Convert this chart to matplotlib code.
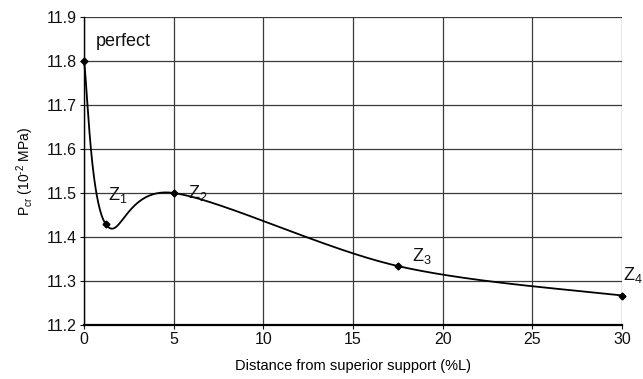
import numpy as np
import matplotlib
matplotlib.use("Agg")
import matplotlib.pyplot as plt

plt.rcParams['font.family'] = ['Liberation Sans', 'DejaVu Sans']
plt.rcParams['mathtext.fontset'] = 'custom'
plt.rcParams['mathtext.rm'] = 'Liberation Sans'
plt.rcParams['mathtext.it'] = 'Liberation Sans'
plt.rcParams['mathtext.default'] = 'rm'

# Critical load vs. imperfection position
positions = [0.0, 1.2, 5.0, 17.5, 30.0]
p_cr = [11.80, 11.43, 11.50, 11.334, 11.267]
point_labels = ["perfect", "Z$_1$", "Z$_2$", "Z$_3$", "Z$_4$"]
x_ticks = [0, 5, 10, 15, 20, 25, 30]
y_ticks = [11.2, 11.3, 11.4, 11.5, 11.6, 11.7, 11.8, 11.9]


def smooth_curve(xs, ys, n=60):
    """Cubic Bezier smoothing (Catmull-Rom style, tension 1/6)."""
    pts = np.column_stack([xs, ys])
    out = []
    for i in range(len(pts) - 1):
        p0 = pts[i - 1] if i > 0 else pts[i]
        p1 = pts[i]
        p2 = pts[i + 1]
        p3 = pts[i + 2] if i + 2 < len(pts) else pts[i + 1]
        c1 = p1 + (p2 - p0) / 6.0
        c2 = p2 - (p3 - p1) / 6.0
        t = np.linspace(0, 1, n)[:, None]
        seg = ((1 - t) ** 3) * p1 + 3 * ((1 - t) ** 2) * t * c1 \
            + 3 * (1 - t) * t ** 2 * c2 + t ** 3 * p2
        out.append(seg if i == 0 else seg[1:])
    curve = np.vstack(out)
    return curve[:, 0], curve[:, 1]


fig = plt.figure(figsize=(6.43, 3.79), dpi=100)
ax = fig.add_axes([84 / 643, 1 - 325 / 379, (622 - 84) / 643, (325 - 17) / 379])

cx, cy = smooth_curve(positions, p_cr)
ax.plot(cx, cy, color='black', lw=1.3, zorder=3, clip_on=False)
ax.plot(positions, p_cr, linestyle='none', marker='D', ms=3.5,
        color='black', zorder=4, clip_on=False)

label_offsets = [(0.65, 0.045), (0.15, 0.065), (0.8, 0.0), (0.8, 0.022), (0.06, 0.047)]
for x, y, txt, (dx, dy) in zip(positions, p_cr, point_labels, label_offsets):
    ax.text(x + dx, y + dy, txt, fontsize=13, ha='left', va='center',
            color='#111111', clip_on=False)

ax.set_xlim(0, 30)
ax.set_ylim(11.2, 11.9)
ax.set_xticks(x_ticks)
ax.set_yticks(y_ticks)
ax.set_yticklabels([f"{v:.1f}" for v in y_ticks])
ax.grid(True, color='#3a3a3a', lw=0.9)
ax.set_axisbelow(True)
for side in ['top', 'right']:
    ax.spines[side].set_visible(False)
ax.spines['left'].set_linewidth(1.0)
ax.spines['bottom'].set_linewidth(1.6)
ax.tick_params(axis='both', direction='out', length=3, width=0.8,
               labelsize=11.5, pad=2, colors='#111111')

ax.set_xlabel("Distance from superior support (%L)", fontsize=10.5, labelpad=9)
ax.set_ylabel("P$_{cr}$ (10$^{\u2010 2}$ MPa)", fontsize=10, labelpad=8)

fig.savefig("out.png", dpi=100)
